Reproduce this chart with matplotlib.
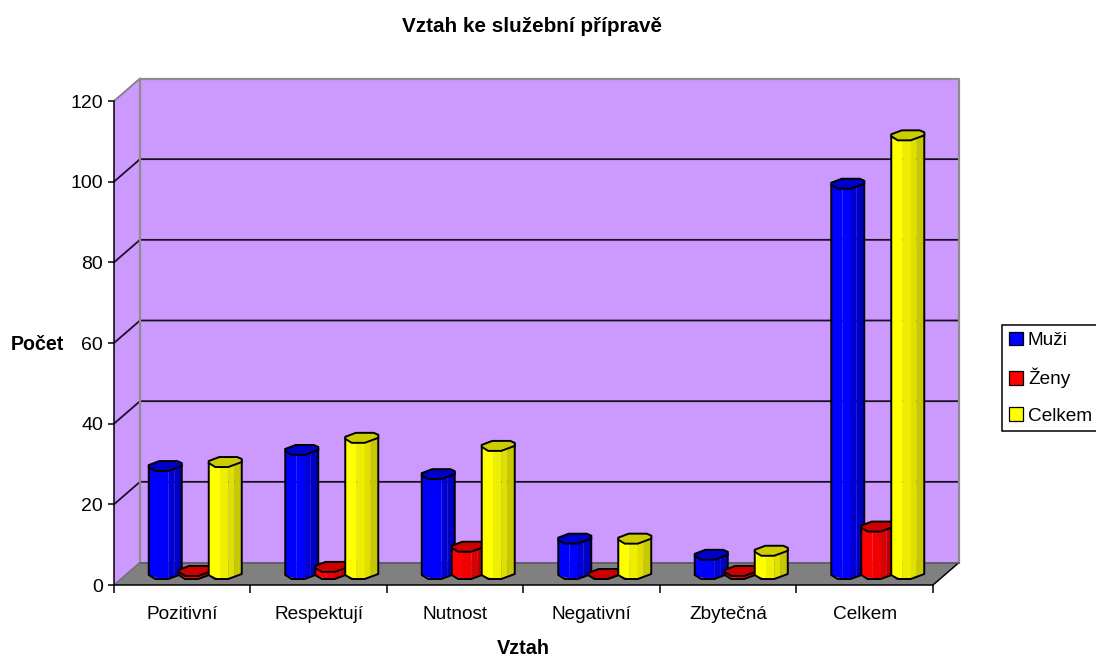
import matplotlib
matplotlib.use('Agg')
import matplotlib.pyplot as plt
from matplotlib.patches import Patch
import numpy as np

plt.rcParams['font.family'] = ['Liberation Sans', 'DejaVu Sans']

categories = ['Pozitivní', 'Respektují', 'Nutnost', 'Negativní', 'Zbytečná', 'Celkem']
muzi = [28, 32, 26, 10, 6, 98]
zeny = [2, 3, 8, 0, 2, 13]
celkem = [29, 35, 33, 10, 7, 110]
series_names = ['Muži', 'Ženy', 'Celkem']
yticks = [0, 20, 40, 60, 80, 100, 120]

W, H = 1096, 658
fig = plt.figure(figsize=(W / 100, H / 100), dpi=100)
fig.patch.set_facecolor('white')

# front plane of the fake 3d box, in pixels
left, right, top, bottom = 114, 933, 101, 585
ax = fig.add_axes([left / W, 1 - bottom / H, (right - left) / W, (bottom - top) / H])
ax.set_xlim(0, len(categories))
ax.set_ylim(0, 120)
ax.patch.set_visible(False)

sx = (right - left) / len(categories)   # px per category
sy = (bottom - top) / 120.0             # px per unit
depth_x = 26 / sx
depth_y = 22.5 / sy
ymax = 120
n = len(categories)

# walls and floor
ax.fill([depth_x, n + depth_x, n + depth_x, depth_x],
        [depth_y, depth_y, ymax + depth_y, ymax + depth_y],
        fc='#CC99FF', ec='none', clip_on=False, zorder=1)
ax.fill([0, depth_x, depth_x, 0], [0, depth_y, ymax + depth_y, ymax],
        fc='#CC99FF', ec='none', clip_on=False, zorder=1)
ax.fill([0, n, n + depth_x, depth_x], [0, 0, depth_y, depth_y],
        fc='#808080', ec='none', clip_on=False, zorder=1)

# gridlines running on both walls
for t in yticks[1:-1]:
    ax.plot([0, depth_x, n + depth_x], [t, t + depth_y, t + depth_y],
            color='#1a1020', lw=1.3, clip_on=False, zorder=2)
ax.plot([0, depth_x], [0, depth_y], color='#707070', lw=1.1, clip_on=False, zorder=2)
ax.plot([0, depth_x], [ymax, ymax + depth_y], color='#808080', lw=1.3, clip_on=False, zorder=2)
ax.plot([n, n + depth_x], [0, depth_y], color='black', lw=1.1, clip_on=False, zorder=2)
ax.plot([depth_x, depth_x, n + depth_x, n + depth_x],
        [depth_y, ymax + depth_y, ymax + depth_y, depth_y],
        color='#8c8c8c', lw=1.6, clip_on=False, zorder=2)
ax.plot([depth_x, n + depth_x], [depth_y, depth_y], color='#555555', lw=1.1, clip_on=False, zorder=2)

# octagonal columns
cap_u = np.array([-16.5, -16.5, -6, 12, 16.5, 16.5, 3, -10])
cap_v = np.array([-1, 1, 5, 5, 3, 0, -5, -5])
low_u = [-16.5, -10, 3, 16.5]
low_v = [-1, -5, -5, 0]
strips = [-16.5, -5, 3, 9, 16.5]
shades = {
    'blue': ['#0000FF', '#0000FF', '#0000D4', '#0000C4'],
    'red': ['#FF0000', '#F00000', '#D80000', '#C00000'],
    'yellow': ['#FFFF00', '#EEEE00', '#E0E000', '#C8C800'],
}
cap_colors = {'blue': '#0000C8', 'red': '#CC0000', 'yellow': '#CCCC00'}
keys = ['blue', 'red', 'yellow']
gap = 30 / sx
offset_x = 13 / sx
base_y = 6 / sy
base_center = 11 / sy


def column(x, value, key, z):
    cx = x + offset_x
    cap_y = max(base_y + value, base_center)
    for k in range(len(strips) - 1):
        u0, u1 = strips[k], strips[k + 1]
        v0, v1 = np.interp([u0, u1], low_u, low_v)
        ax.fill([cx + u0 / sx, cx + u1 / sx, cx + u1 / sx, cx + u0 / sx],
                [base_center + v0 / sy, base_center + v1 / sy, cap_y, cap_y],
                fc=shades[key][k], ec='none', clip_on=False, zorder=z)
    ax.plot(cx + np.array([-16.5, -16.5, -10, 3, 16.5, 16.5]) / sx,
            [cap_y - 1 / sy, base_center + low_v[0] / sy, base_center + low_v[1] / sy,
             base_center + low_v[2] / sy, base_center + low_v[3] / sy, cap_y + 1 / sy],
            color='black', lw=1.4, clip_on=False, zorder=z + 0.1)
    ax.fill(cx + cap_u / sx, cap_y + cap_v / sy, fc=cap_colors[key], ec='black', lw=1.4,
            clip_on=False, zorder=z + 0.2)


for i in range(n):
    for j, vals in enumerate([muzi, zeny, celkem]):
        column(i + 0.5 + (j - 1) * gap, vals[i], keys[j], 3 + i + j * 0.3)

# axes
for s in ['top', 'right']:
    ax.spines[s].set_visible(False)
ax.spines['left'].set_linewidth(1.1)
ax.spines['bottom'].set_linewidth(1.1)
ax.spines['left'].set_zorder(20)
ax.spines['bottom'].set_zorder(20)
ax.set_yticks(yticks)
ax.set_xticks(np.arange(n + 1))
ax.set_xticklabels([])
ax.set_xticks(np.arange(n) + 0.5, minor=True)
ax.set_xticklabels(categories, minor=True)
ax.tick_params(axis='x', which='major', length=5.5, width=1.1, direction='out')
ax.tick_params(axis='x', which='minor', length=0, pad=15, labelsize=13.7)
ax.tick_params(axis='y', length=4, width=1.1, pad=4, labelsize=14)

fig.text(532 / W, 1 - 27 / H, 'Vztah ke služební přípravě', ha='center', va='center',
         fontsize=14.9, fontweight='bold')
fig.text(523 / W, 1 - 649 / H, 'Vztah', ha='center', va='center', fontsize=14.3, fontweight='bold')
fig.text(64 / W, 1 - 345 / H, 'Počet', ha='right', va='center', fontsize=14.1, fontweight='bold')

handles = [Patch(fc=shades[k][0], ec='black', lw=0.9) for k in keys]
leg = fig.legend(handles, series_names, loc='upper left',
                 bbox_to_anchor=(1002 / W, 1 - 325 / H), fontsize=13.7, fancybox=False,
                 edgecolor='black', framealpha=1, borderaxespad=0, borderpad=0.36,
                 handlelength=0.72, handleheight=0.72, handletextpad=0.28, labelspacing=0.98)
leg.get_frame().set_linewidth(1.1)

fig.savefig('out.png', dpi=100)
